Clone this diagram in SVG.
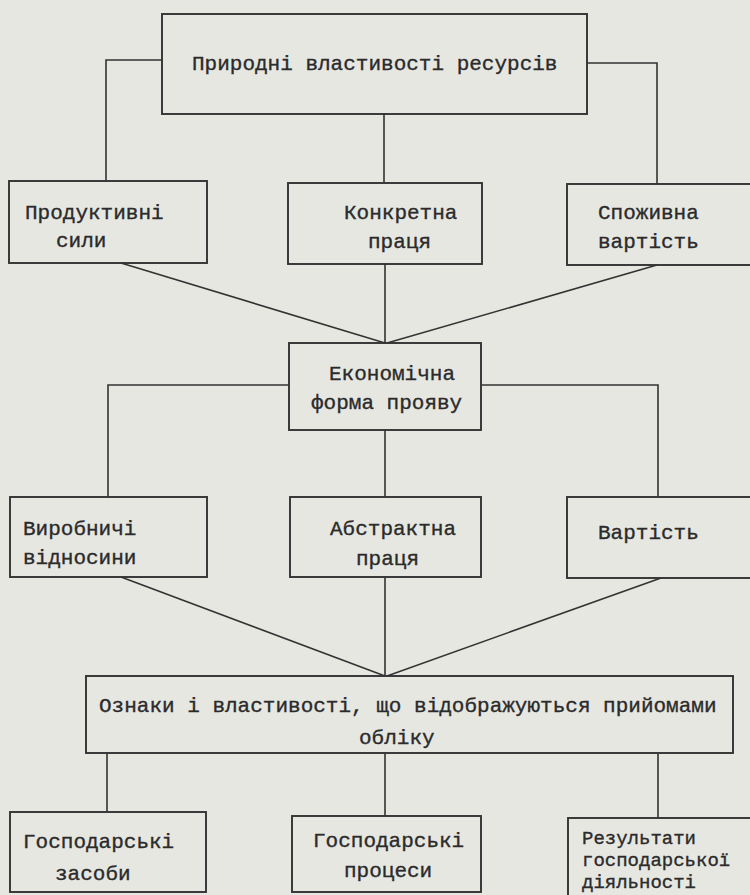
<svg xmlns="http://www.w3.org/2000/svg" width="750" height="895" viewBox="0 0 750 895">
<style>
.bg{fill:#e7e7e2}
.box{fill:none;stroke:#333;stroke-width:1.9}
.ln{fill:none;stroke:#333;stroke-width:1.6}
text{font-family:"Liberation Mono","DejaVu Sans Mono",monospace;font-size:21px;fill:#2b2b2b;stroke:#2b2b2b;stroke-width:0.35}
.sm{font-size:19px}
</style>
<rect class="bg" x="0" y="0" width="750" height="895"/>
<g id="connectors">
<polyline class="ln" points="162,60 106,60 106,181"/>
<line class="ln" x1="384" y1="113" x2="384" y2="183"/>
<polyline class="ln" points="587,63 657,63 657,184"/>
<line class="ln" x1="121" y1="263" x2="385" y2="343"/>
<line class="ln" x1="385" y1="264" x2="385" y2="343"/>
<line class="ln" x1="657" y1="265" x2="387" y2="343"/>
<polyline class="ln" points="289,385 108,385 108,497"/>
<polyline class="ln" points="481,385 658,385 658,497"/>
<line class="ln" x1="385" y1="430" x2="385" y2="497"/>
<line class="ln" x1="121" y1="577" x2="385" y2="676"/>
<line class="ln" x1="385" y1="577" x2="385" y2="676"/>
<line class="ln" x1="661" y1="578" x2="387" y2="676"/>
<line class="ln" x1="107" y1="753" x2="107" y2="812"/>
<line class="ln" x1="385" y1="753" x2="385" y2="816"/>
<line class="ln" x1="658" y1="754" x2="658" y2="818"/>
</g>
<g id="n1"><rect class="box" x="162" y="14" width="425" height="100"/><text x="192" y="70">Природні властивості ресурсів</text></g>
<g id="n2"><rect class="box" x="9" y="181" width="198" height="82"/><text x="25" y="219">Продуктивні</text><text x="56" y="247">сили</text></g>
<g id="n3"><rect class="box" x="288" y="183" width="194" height="81"/><text x="344" y="219">Конкретна</text><text x="368" y="248">праця</text></g>
<g id="n4"><rect class="box" x="567" y="184" width="200" height="81"/><text x="598" y="219">Споживна</text><text x="598" y="248">вартість</text></g>
<g id="n5"><rect class="box" x="289" y="343" width="192" height="87"/><text x="329" y="380">Економічна</text><text x="311" y="409">форма прояву</text></g>
<g id="n6"><rect class="box" x="10" y="497" width="197" height="80"/><text x="23" y="535">Виробничі</text><text x="23" y="564">відносини</text></g>
<g id="n7"><rect class="box" x="290" y="497" width="191" height="80"/><text x="330" y="535">Абстрактна</text><text x="356" y="565">праця</text></g>
<g id="n8"><rect class="box" x="567" y="497" width="200" height="81"/><text x="598" y="539">Вартість</text></g>
<g id="n9"><rect class="box" x="86" y="676" width="647" height="77"/><text x="99" y="712">Ознаки і властивості, що відображуються прийомами</text><text x="359" y="744">обліку</text></g>
<g id="n10"><rect class="box" x="10" y="812" width="196" height="80"/><text x="23" y="848">Господарські</text><text x="55" y="880">засоби</text></g>
<g id="n11"><rect class="box" x="292" y="816" width="189" height="76"/><text x="313" y="847">Господарські</text><text x="344" y="877">процеси</text></g>
<g id="n12"><rect class="box" x="568" y="818" width="200" height="90"/><text class="sm" x="582" y="844">Результати</text><text class="sm" x="582" y="866">господарської</text><text class="sm" x="582" y="888">діяльності</text></g>
</svg>
